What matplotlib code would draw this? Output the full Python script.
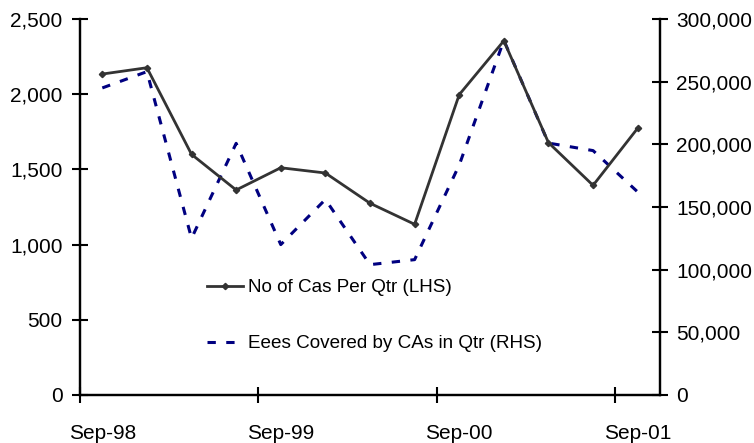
import matplotlib
matplotlib.use("Agg")
import matplotlib.pyplot as plt
from matplotlib.lines import Line2D
from matplotlib.ticker import FuncFormatter, FixedLocator

plt.rcParams['font.family'] = ['Liberation Sans', 'DejaVu Sans']
plt.rcParams['lines.scale_dashes'] = False

quarters = ["Sep-98", "Dec-98", "Mar-99", "Jun-99", "Sep-99", "Dec-99", "Mar-00",
            "Jun-00", "Sep-00", "Dec-00", "Mar-01", "Jun-01", "Sep-01"]
cas_per_qtr = [2134, 2176, 1600, 1363, 1511, 1476, 1275, 1135, 1997, 2355, 1678, 1394, 1774]
eees_covered = [245000, 258000, 125000, 200800, 120000, 156000, 104000, 108000,
                183500, 283000, 201000, 195000, 162000]
label_cas = "No of Cas Per Qtr (LHS)"
label_eees = "Eees Covered by CAs in Qtr (RHS)"
lhs_ticks = [0, 500, 1000, 1500, 2000, 2500]
rhs_ticks = [0, 50000, 100000, 150000, 200000, 250000, 300000]
shown_labels = ["Sep-98", "Sep-99", "Sep-00", "Sep-01"]

W, H = 754, 443
fig = plt.figure(figsize=(W / 100, H / 100), dpi=100)
ax = fig.add_axes([80 / W, (H - 395) / H, (660 - 80) / W, (395 - 19) / H])
ax2 = ax.twinx()

x = list(range(len(quarters)))
ax.plot(x, cas_per_qtr, color="#333333", lw=2.0, marker="D", ms=3.2, zorder=3)
ln2, = ax2.plot(x, eees_covered, color="#000080", lw=2.2, zorder=2)
ln2.set_dashes([6, 7.5])

ax.set_xlim(-0.5, len(quarters) - 0.5)
ax.set_ylim(0, 2500)
ax2.set_ylim(0, 300000)

fmt = FuncFormatter(lambda v, p: f"{int(v):,}")
ax.yaxis.set_major_locator(FixedLocator(lhs_ticks))
ax.yaxis.set_major_formatter(fmt)
ax2.yaxis.set_major_locator(FixedLocator(rhs_ticks))
ax2.yaxis.set_major_formatter(fmt)

# x: tick marks between categories, labels at category centers
label_pos = [quarters.index(s) for s in shown_labels]
ax.set_xticks([p - 0.5 for p in label_pos])
ax.set_xticklabels([""] * len(label_pos))
ax.set_xticks(label_pos, minor=True)
ax.set_xticklabels(shown_labels, minor=True)
ax.tick_params(axis="x", which="minor", length=0, pad=21, labelsize=15)
ax.tick_params(axis="x", which="major", direction="inout", length=11, width=1.5)

ax.tick_params(axis="y", direction="inout", length=11, width=1.5, pad=7, labelsize=15)
ax2.tick_params(axis="y", direction="inout", length=11, width=1.5, pad=6, labelsize=15)

for a in (ax, ax2):
    a.spines["top"].set_visible(False)
    for s in ("left", "right", "bottom"):
        a.spines[s].set_linewidth(1.6)
        a.spines[s].set_color("black")

h1 = Line2D([], [], color="#333333", lw=2.0, marker="D", ms=3.2, markevery=[1])
h2 = Line2D([], [], color="#000080", lw=2.2)
h2.set_dashes([6, 7.5])
leg = ax.legend([h1, h2], [label_cas, label_eees], frameon=False, fontsize=13.6,
                loc="upper left", bbox_to_anchor=(207 / W, (H - 279) / H),
                bbox_transform=fig.transFigure, borderpad=0, borderaxespad=0,
                handlelength=1.9, handletextpad=0.25, labelspacing=2.05)
ax.set_zorder(ax2.get_zorder() + 1)
ax.patch.set_visible(False)

fig.savefig("out.png", dpi=100)
